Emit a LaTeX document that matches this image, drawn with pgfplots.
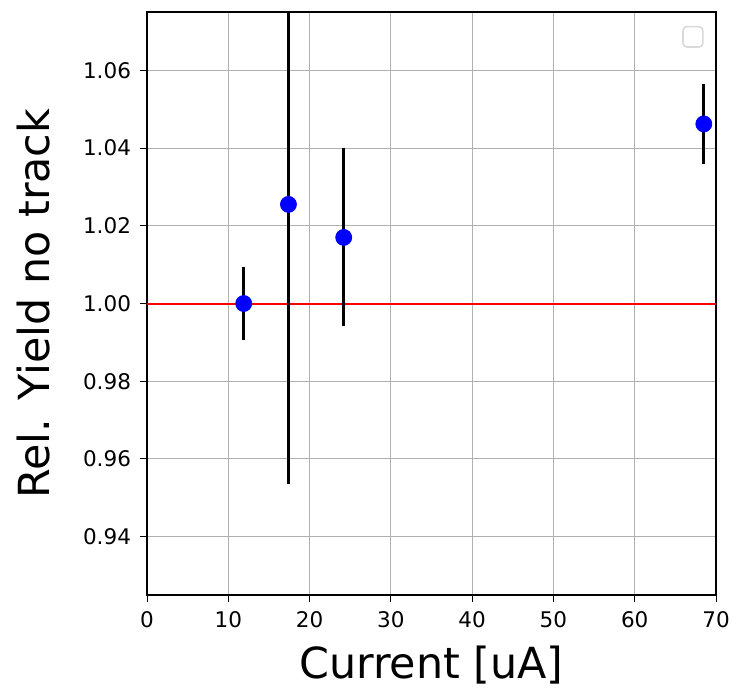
\documentclass[border=0pt]{standalone}
\usepackage{pgfplots}
\pgfplotsset{compat=1.18}
\usepackage{fontspec}
\setmainfont{DejaVu Sans}
\begin{document}
\begin{tikzpicture}
\begin{axis}[
  scale only axis, width=284.5bp, height=291.5bp,
  xmin=0, xmax=70, ymin=0.925, ymax=1.075,
  xtick={0,10,20,30,40,50,60,70},
  ytick={0.94,0.96,0.98,1.00,1.02,1.04,1.06},
  yticklabel style={/pgf/number format/fixed,/pgf/number format/fixed zerofill,/pgf/number format/precision=2},
  /pgf/number format/assume math mode=true,
  tick label style={font=\fontsize{10.8}{13}\selectfont},
  label style={font=\fontsize{21.5}{25}\selectfont},
  xlabel={Current [uA]}, ylabel={Rel. Yield no track},
  xlabel style={at={(axis description cs:0.5,-0.12)}, anchor=center},
  ylabel style={at={(axis description cs:-0.1986,0.5)}, anchor=center},
  grid=major, grid style={color=black!31, line width=0.5bp},
  tick align=outside, major tick length=3.5bp,
  tick style={black, line width=0.5bp},
  axis line style={line width=0.6bp},
  xtick pos=lower, ytick pos=left,
  xticklabel style={yshift=-1bp},
  yticklabel style={xshift=-1bp},
]
\addplot[red, line width=1bp] coordinates {(0,1) (70,1)};
\addplot[only marks, mark=*, mark size=4bp, blue, mark options={draw=none, fill=blue},
  error bars/.cd, y dir=both, y explicit, error mark=none,
  error bar style={line width=1.5bp, black}]
  table[x=x, y=y, y error=e] {
x y e
11.9 1.0000 0.0095
17.4 1.0255 0.0720
24.2 1.0170 0.0229
68.5 1.0462 0.0103
};
\draw[black!15, line width=0.8bp, rounded corners=2bp, fill=white] (rel axis cs:0.942,0.940) rectangle (rel axis cs:0.977,0.975);
\end{axis}
\pgfresetboundingbox
\path (current axis.south west) ++(-73.5bp,-47.5bp) coordinate (bbA);
\path (current axis.north east) ++(8bp,6bp) coordinate (bbB);
\path (bbA) rectangle (bbB);
\end{tikzpicture}
\end{document}
